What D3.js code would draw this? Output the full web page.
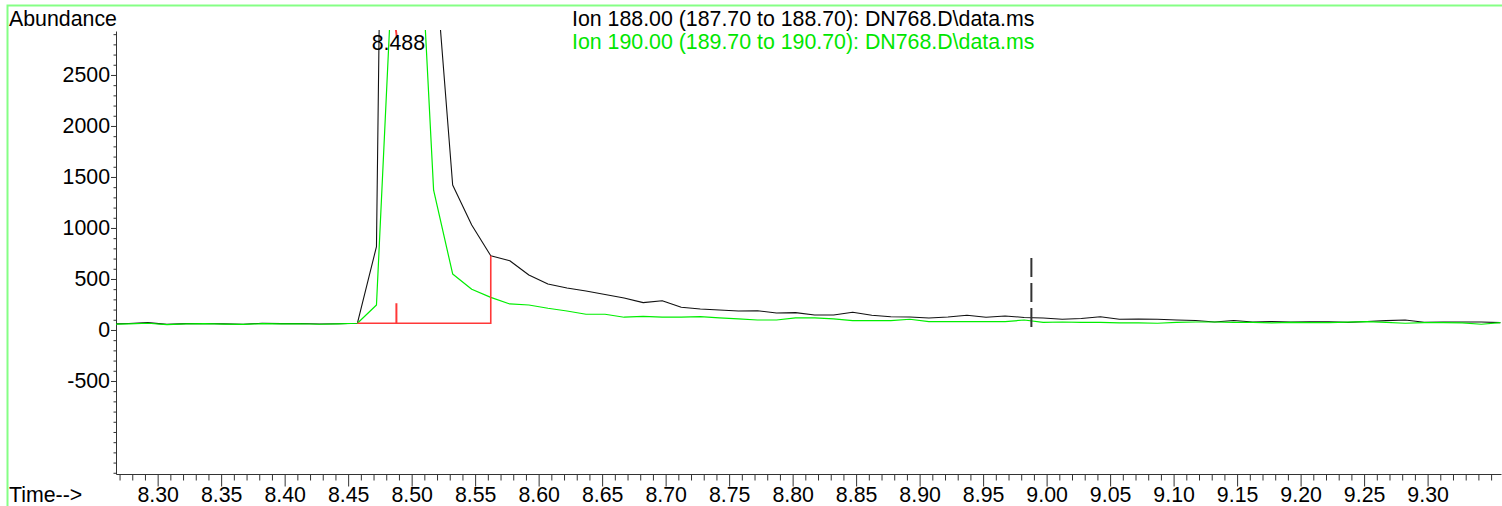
<!DOCTYPE html>
<html>
<head>
<meta charset="utf-8">
<script src="https://cdn.jsdelivr.net/npm/d3@7"></script>
<style>
  html, body { margin: 0; padding: 0; background: #fff; overflow: hidden; }
  svg { display: block; }
  text { font-family: "Liberation Sans", Arial, sans-serif; }
</style>
</head>
<body>
<svg id="chart" width="1502" height="506"></svg>
<script>
// ---- data ----
const times = [
  8.2623, 8.2773, 8.2923, 8.3073, 8.3223, 8.3373, 8.3523, 8.3673, 8.3823, 8.3973,
  8.4123, 8.4273, 8.4423, 8.4573, 8.4723, 8.4873, 8.5023, 8.5173, 8.5323, 8.5473,
  8.5623, 8.5773, 8.5923, 8.6073, 8.6223, 8.6373, 8.6523, 8.6673, 8.6823, 8.6973,
  8.7123, 8.7273, 8.7423, 8.7573, 8.7723, 8.7873, 8.8023, 8.8173, 8.8323, 8.8473,
  8.8623, 8.8773, 8.8923, 8.9073, 8.9223, 8.9373, 8.9523, 8.9673, 8.9823, 8.9973,
  9.0123, 9.0273, 9.0423, 9.0573, 9.0723, 9.0873, 9.1023, 9.1173, 9.1323, 9.1473,
  9.1623, 9.1773, 9.1923, 9.2073, 9.2223, 9.2373, 9.2523, 9.2673, 9.2823, 9.2973,
  9.3123, 9.3273, 9.3423, 9.3573
];
const ion188 = [
  58, 64, 72, 55, 62, 64, 60, 56, 66, 62,
  64, 58, 61, 66, 817, 16000, 9000, 3800, 1422, 1029,
  728, 679, 539, 451, 412, 382, 348, 314, 268, 287,
  223, 206, 196, 186, 189, 167, 170, 147, 147, 174,
  144, 130, 127, 118, 127, 144, 125, 137, 123, 118,
  105, 113, 130, 105, 108, 105, 98, 93, 78, 93,
  78, 83, 78, 81, 81, 74, 83, 92, 98, 75,
  78, 78, 78, 72
];
const ion190 = [
  55, 60, 66, 52, 60, 62, 58, 54, 62, 60,
  61, 56, 59, 66, 245, 4200, 5000, 1370, 549, 399,
  320, 255, 245, 213, 186, 154, 154, 125, 134, 125,
  125, 130, 118, 108, 98, 98, 118, 118, 108, 91,
  91, 91, 105, 81, 81, 81, 81, 81, 98, 75,
  78, 74, 74, 69, 69, 66, 74, 78, 78, 74,
  74, 69, 74, 72, 72, 76, 81, 74, 66, 72,
  72, 70, 56, 72
];
const legendLabels = [
  "Ion 188.00 (187.70 to 188.70): DN768.D\\data.ms",
  "Ion 190.00 (189.70 to 190.70): DN768.D\\data.ms"
];
const xMajorTicks = [8.30, 8.35, 8.40, 8.45, 8.50, 8.55, 8.60, 8.65, 8.70, 8.75, 8.80, 8.85,
  8.90, 8.95, 9.00, 9.05, 9.10, 9.15, 9.20, 9.25, 9.30];
const yMajorTicks = [-500, 0, 500, 1000, 1500, 2000, 2500];
const peakApex = 8.488;
const peakLabel = "8.488";
const integStart = 8.4573, integEnd = 8.5623, integBase = 66, integEndValue = 728;
const markerTime = 8.988, markerValue = 705;

// ---- layout ----
const svg = d3.select("#chart");
const FONT = "21.33px";
const x = d3.scaleLinear().domain([8.2672, 9.3578]).range([116, 1501]);
const y = d3.scaleLinear().domain([-1412, 2931]).range([474, 31]);

// frame
svg.append("rect").attr("x", 7.5).attr("y", 5.5).attr("width", 1600).attr("height", 600)
  .attr("fill", "none").attr("stroke", "#85ff85").attr("stroke-width", 2);

// clip
svg.append("clipPath").attr("id", "plotclip").append("rect")
  .attr("x", 116).attr("y", 30).attr("width", 1386).attr("height", 444);

// y axis minor ticks
const yMinor = d3.range(-1400, 2901, 100).filter(v => !yMajorTicks.includes(v));
svg.append("g").attr("transform", "translate(116,0)")
  .call(d3.axisLeft(y).tickValues(yMinor).tickSize(2.5).tickFormat("").tickSizeOuter(0))
  .call(g => g.select(".domain").remove())
  .call(g => g.selectAll("line").attr("stroke", "#333"));
// y axis major
svg.append("g").attr("transform", "translate(116,0)")
  .call(d3.axisLeft(y).tickValues(yMajorTicks).tickSize(5).tickPadding(1).tickSizeOuter(0).tickFormat(d => String(d)))
  .call(g => g.select(".domain").attr("stroke", "#333"))
  .call(g => g.selectAll("line").attr("stroke", "#333"))
  .call(g => g.selectAll("text").attr("font-size", FONT).attr("fill", "#000")
    .attr("font-family", "'Liberation Sans', Arial, sans-serif"));

// x axis minor
const xMinor = d3.range(827, 936).map(v => v / 100).filter(v => !xMajorTicks.some(m => Math.abs(m - v) < 1e-6));
svg.append("g").attr("transform", "translate(0,474)")
  .call(d3.axisBottom(x).tickValues(xMinor).tickSize(6.5).tickFormat("").tickSizeOuter(0))
  .call(g => g.select(".domain").remove())
  .call(g => g.selectAll("line").attr("stroke", "#333"));
// x axis major
svg.append("g").attr("transform", "translate(0,474)")
  .call(d3.axisBottom(x).tickValues(xMajorTicks).tickSize(12.5).tickPadding(0.5).tickSizeOuter(0).tickFormat(d3.format(".2f")))
  .call(g => g.select(".domain").attr("stroke", "#333"))
  .call(g => g.selectAll("line").attr("stroke", "#333"))
  .call(g => g.selectAll("text").attr("font-size", FONT).attr("fill", "#000")
    .attr("font-family", "'Liberation Sans', Arial, sans-serif"));

// axis titles
svg.append("text").attr("x", 9).attr("y", 26).attr("font-size", FONT).text("Abundance");
svg.append("text").attr("x", 9).attr("y", 501.5).attr("font-size", FONT).text("Time-->");

// traces
const plot = svg.append("g").attr("clip-path", "url(#plotclip)");
const line = d3.line().x(d => x(d[0])).y(d => y(d[1]));
plot.append("path").datum(times.map((t, i) => [t, ion188[i]]))
  .attr("d", line).attr("fill", "none").attr("stroke", "#111").attr("stroke-width", 1.1)
  .attr("stroke-linejoin", "round");
plot.append("path").datum(times.map((t, i) => [t, ion190[i]]))
  .attr("d", line).attr("fill", "none").attr("stroke", "#00ee00").attr("stroke-width", 1.2)
  .attr("stroke-linejoin", "round");

// integration (red)
const red = "#ff3838";
plot.append("path")
  .attr("d", d3.line()([[x(integStart), y(integBase)], [x(integEnd), y(integBase)], [x(integEnd), y(integEndValue)]]))
  .attr("fill", "none").attr("stroke", red).attr("stroke-width", 1.6);
plot.append("line").attr("x1", x(peakApex)).attr("x2", x(peakApex))
  .attr("y1", y(integBase)).attr("y2", y(integBase) - 20)
  .attr("stroke", red).attr("stroke-width", 2);
svg.append("line").attr("x1", x(peakApex) - 0.5).attr("x2", x(peakApex) + 0.5)
  .attr("y1", 30).attr("y2", 38)
  .attr("stroke", red).attr("stroke-width", 2);

// peak label
svg.append("text").attr("x", x(peakApex) + 2).attr("y", 49.5).attr("text-anchor", "middle")
  .attr("font-size", FONT).text(peakLabel);

// dashed marker
svg.append("line").attr("x1", x(markerTime)).attr("x2", x(markerTime))
  .attr("y1", y(markerValue)).attr("y2", y(0))
  .attr("stroke", "#333").attr("stroke-width", 2).attr("stroke-dasharray", "19,6");

// legend
const legendColors = ["#000", "#00e600"];
legendLabels.forEach((s, i) => {
  svg.append("text").attr("x", 572).attr("y", 26 + i * 23).attr("font-size", FONT)
    .attr("fill", legendColors[i]).text(s);
});
</script>
</body>
</html>
